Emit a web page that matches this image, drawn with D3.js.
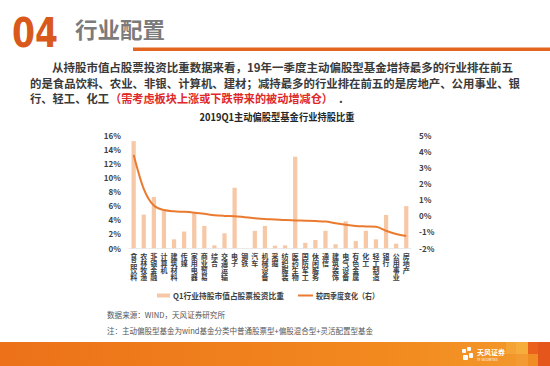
<!DOCTYPE html>
<html><head><meta charset="utf-8">
<script src="https://cdn.jsdelivr.net/npm/d3@7"></script>
<style>
html,body{margin:0;padding:0;background:#fff;}
svg{display:block;font-family:"Noto Sans CJK SC","Noto Sans",sans-serif;}
</style></head>
<body>
<script>
const categories = ["食品饮料","农林牧渔","非银金融","计算机","建筑材料","传媒","家用电器","商业贸易","综合","交通运输","电子","钢铁","汽车","机械设备","采掘","纺织服装","医药生物","国防军工","休闲服务","通信","建筑装饰","电气设备","有色金属","化工","轻工制造","银行","公用事业","房地产"];
const shareValues = [15.2,4.8,7.3,5.3,1.3,2.4,5.0,3.2,0.45,2.15,8.6,0.05,2.5,3.2,0.4,0.45,13.0,0.8,1.2,2.5,0.6,3.85,1.05,2.5,1.3,4.75,0.68,6.0];
const changeValues = [3.8,1.7,0.67,0.38,0.3,0.27,0.22,0.15,0.06,0.02,0.0,-0.06,-0.12,-0.17,-0.2,-0.24,-0.26,-0.28,-0.3,-0.33,-0.44,-0.53,-0.6,-0.63,-0.65,-0.9,-1.1,-1.22];
const leftTicks = [0,2,4,6,8,10,12,14,16];
const rightTicks = [-2,-1,0,1,2,3,4,5];
const chartTitle = "2019Q1主动偏股型基金行业持股比重";
const legendLabels = ["Q1行业持股市值占股票投资比重","较四季度变化（右）"];

const W = 550, H = 366;
const svg = d3.select("body").append("svg").attr("width", W).attr("height", H);

// header
svg.append("text").attr("x", 12).attr("y", 47).attr("font-size", 40).attr("font-weight", 900)
  .attr("font-family", "'DejaVu Sans', sans-serif")
  .attr("fill", "#d9581b").attr("textLength", 46).attr("lengthAdjust", "spacingAndGlyphs").text("04");
svg.append("text").attr("x", 75).attr("y", 38).attr("font-size", 22).attr("font-weight", 700)
  .attr("fill", "#7b7b7b").attr("textLength", 90).attr("lengthAdjust", "spacingAndGlyphs").text("行业配置");
svg.append("rect").attr("x", 133).attr("y", 47.5).attr("width", W - 133).attr("height", 3.5).attr("fill", "#e2661f");

// paragraph
const para = svg.append("g").attr("font-size", 11.5).attr("font-weight", 700).attr("fill", "#3a3a3a");
para.append("text").attr("x", 52).attr("y", 72).attr("textLength", 461).attr("lengthAdjust", "spacingAndGlyphs")
  .text("从持股市值占股票投资比重数据来看，19年一季度主动偏股型基金增持最多的行业排在前五");
para.append("text").attr("x", 30).attr("y", 87.5).attr("textLength", 490).attr("lengthAdjust", "spacingAndGlyphs")
  .text("的是食品饮料、农业、非银、计算机、建材；减持最多的行业排在前五的是房地产、公用事业、银");
para.append("text").attr("x", 30).attr("y", 103).attr("textLength", 79).attr("lengthAdjust", "spacingAndGlyphs").text("行、轻工、化工");
para.append("text").attr("x", 110).attr("y", 103).attr("fill", "#e0282a").attr("textLength", 223).attr("lengthAdjust", "spacingAndGlyphs")
  .text("（需考虑板块上涨或下跌带来的被动增减仓）");
para.append("text").attr("x", 339).attr("y", 103).text(".");

// chart title
svg.append("text").attr("x", 277).attr("y", 121).attr("text-anchor", "middle").attr("font-size", 10).attr("font-weight", 700)
  .attr("fill", "#262626").attr("textLength", 155).attr("lengthAdjust", "spacingAndGlyphs").text(chartTitle);

// scales
const x = d3.scaleBand().domain(categories).range([128.6, 411.3]).padding(0);
const yL = d3.scaleLinear().domain([0, 16]).range([248.5, 135.5]);
const yR = d3.scaleLinear().domain([-2, 5]).range([248.5, 135.5]);
const bw = x.bandwidth() * 0.42;

// axis labels
const axL = svg.append("g").attr("transform", "translate(121,0)")
  .call(d3.axisLeft(yL).tickValues(leftTicks).tickSize(0).tickPadding(0).tickFormat(d => d + "%"));
axL.select(".domain").remove();
axL.selectAll("text").attr("font-size", 8).attr("font-weight", 700).attr("fill", "#404040")
  .attr("font-family", "'Noto Sans CJK SC', sans-serif");
const axR = svg.append("g").attr("transform", "translate(419,0)")
  .call(d3.axisRight(yR).tickValues(rightTicks).tickSize(0).tickPadding(0).tickFormat(d => d + "%"));
axR.select(".domain").remove();
axR.selectAll("text").attr("font-size", 8).attr("font-weight", 700).attr("fill", "#404040")
  .attr("font-family", "'Noto Sans CJK SC', sans-serif");

// bars
svg.append("g").selectAll("rect").data(categories).join("rect")
  .attr("x", (d) => x(d) + (x.bandwidth() - bw) / 2)
  .attr("y", (d, i) => yL(shareValues[i]))
  .attr("width", bw)
  .attr("height", (d, i) => yL(0) - yL(shareValues[i]))
  .attr("fill", "#f7c8a6");

// baseline
svg.append("line").attr("x1", 128.6).attr("x2", 411.3).attr("y1", yL(0)).attr("y2", yL(0))
  .attr("stroke", "#e4e4e4").attr("stroke-width", 0.8);

// line
const line = d3.line().x((d, i) => x(categories[i]) + x.bandwidth() / 2).y(d => yR(d)).curve(d3.curveMonotoneX);
svg.append("path").datum(changeValues).attr("d", line).attr("fill", "none")
  .attr("stroke", "#ea7a30").attr("stroke-width", 2);

// x labels vertical stacked
svg.append("g").selectAll("text").data(categories).join("text")
  .attr("x", d => x(d) + x.bandwidth() / 2)
  .attr("y", 253)
  .attr("font-size", 7).attr("font-weight", 700).attr("fill", "#404040")
  .style("writing-mode", "vertical-rl").style("text-orientation", "upright")
  .text(d => d);

// legend
const lg = svg.append("g").attr("font-size", 8).attr("font-weight", 700).attr("fill", "#404040");
lg.append("rect").attr("x", 157).attr("y", 293.5).attr("width", 13).attr("height", 4).attr("fill", "#f7c8a6");
lg.append("text").attr("x", 173).attr("y", 298.5).attr("textLength", 111).attr("lengthAdjust", "spacingAndGlyphs").text(legendLabels[0]);
lg.append("line").attr("x1", 298).attr("x2", 313).attr("y1", 295.5).attr("y2", 295.5).attr("stroke", "#ea7a30").attr("stroke-width", 2);
lg.append("text").attr("x", 316).attr("y", 298.5).attr("textLength", 63).attr("lengthAdjust", "spacingAndGlyphs").text(legendLabels[1]);

// source notes
const src = svg.append("g").attr("font-size", 7.5).attr("fill", "#555");
src.append("text").attr("x", 107).attr("y", 318).attr("textLength", 118).attr("lengthAdjust", "spacingAndGlyphs").text("数据来源：WIND，天风证券研究所");
src.append("text").attr("x", 107).attr("y", 333.5).attr("textLength", 266).attr("lengthAdjust", "spacingAndGlyphs").text("注：主动偏股型基金为wind基金分类中普通股票型+偏股混合型+灵活配置型基金");

// bottom band
const defs = svg.append("defs");
const gr = defs.append("linearGradient").attr("id", "band").attr("x1", "0").attr("x2", "1");
gr.append("stop").attr("offset", "0").attr("stop-color", "#ec7119");
gr.append("stop").attr("offset", "0.7").attr("stop-color", "#f2891f");
gr.append("stop").attr("offset", "1").attr("stop-color", "#f39a2c");
svg.append("rect").attr("x", 0).attr("y", 342).attr("width", W).attr("height", 24).attr("fill", "url(#band)");
const tiles = [[506,342,10,12,"#f5a63a"],[516,342,12,24,"#f7b040"],[528,342,10,12,"#e8571b"],[528,354,10,12,"#f08a25"],[538,342,12,24,"#e24a1a"],[516,354,12,12,"#f29630"]];
tiles.forEach(t => svg.append("rect").attr("x", t[0]).attr("y", t[1]).attr("width", t[2]).attr("height", t[3]).attr("fill", t[4]).attr("opacity", 0.85));
// logo
const logo = svg.append("g").attr("fill", "#fff");
[[462,349,4,4],[467,347,4,4],[463,355,5,5],[469,353,4,5]].forEach(r => logo.append("rect").attr("x", r[0]).attr("y", r[1]).attr("width", r[2]).attr("height", r[3]).attr("rx", 1));
logo.append("text").attr("x", 477).attr("y", 355).attr("font-size", 7).attr("font-weight", 700).text("天风证券");
logo.append("text").attr("x", 477).attr("y", 361).attr("font-size", 3).text("TF SECURITIES");
</script>
</body></html>
